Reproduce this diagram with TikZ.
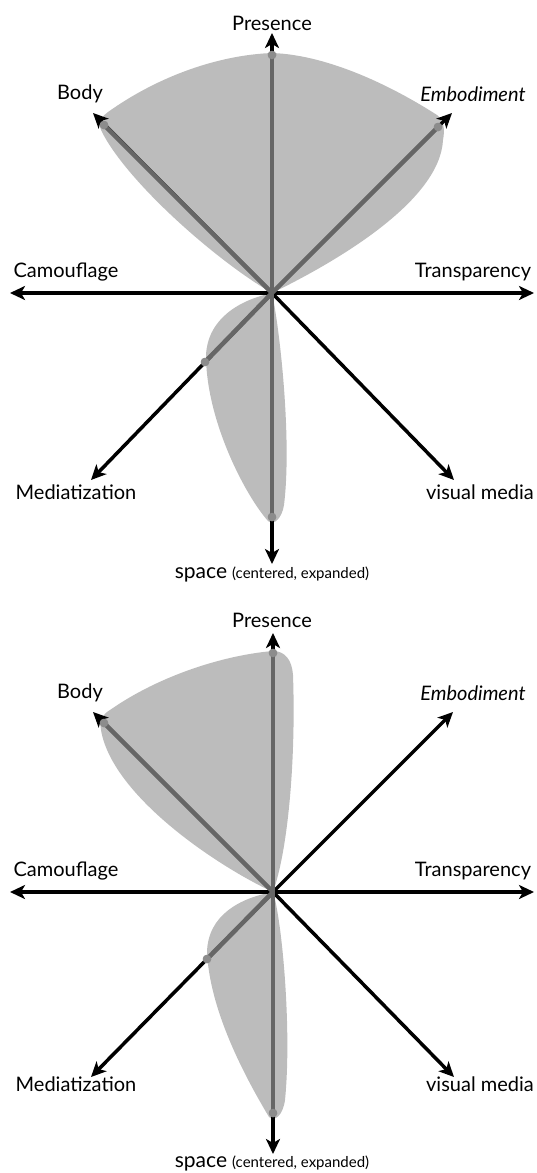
\documentclass[tikz,border=0pt]{standalone}
\usepackage{fontspec}
\setmainfont{Lato}
\usetikzlibrary{arrows.meta}
\definecolor{shadecol}{RGB}{188,188,188}
\definecolor{raycol}{RGB}{102,102,102}
\definecolor{dotcol}{RGB}{140,140,140}
\begin{document}
\begin{tikzpicture}[x=1pt,y=-1pt,
  axisarrow/.style={line width=3.5pt,-{Stealth[length=15pt,width=14pt,inset=4pt]}},
  axisboth/.style={line width=3.5pt,{Stealth[length=15pt,width=14pt,inset=4pt]}-{Stealth[length=15pt,width=14pt,inset=4pt]}},
  rayline/.style={line width=4.5pt,draw=raycol},
  blob/.style={fill=shadecol},
  lab/.style={font=\fontsize{20}{22}\selectfont,inner sep=0pt},
  dotn/.style={circle,fill=dotcol,minimum size=8.5pt,inner sep=0pt}]
\useasboundingbox (0,0) rectangle (537,1173);

% ================= Panel 1 =================
\coordinate (c1) at (272,293);
\coordinate (L1) at (10,293);
\coordinate (R1) at (534,293);
\coordinate (Pt1) at (272,33);
\coordinate (Bt1) at (93,113);
\coordinate (Et1) at (452,113);
\coordinate (Mt1) at (91,480);
\coordinate (Vt1) at (454,480);
\coordinate (St1) at (272,564);

\fill[blob] (c1) .. controls (215,260) and (125,180) .. (101,130)
   .. controls (98,122) and (102,116) .. (108,112)
   .. controls (160,75) and (220,55) .. (272,53)
   .. controls (330,55) and (395,88) .. (437,115)
   .. controls (444,120) and (445,130) .. (443,140)
   .. controls (440,200) and (340,260) .. (c1) -- cycle;
\fill[blob] (c1) .. controls (240,300) and (208,318) .. (206,355)
   .. controls (206,420) and (245,495) .. (268,521)
   .. controls (274,526) and (282,518) .. (284,505)
   .. controls (292,440) and (280,330) .. (c1) -- cycle;

\draw[axisboth] (L1) -- (R1);
\draw[axisarrow] (c1) -- (Pt1);
\draw[axisarrow] (c1) -- (Bt1);
\draw[axisarrow] (c1) -- (Et1);
\draw[axisarrow] (c1) -- (Mt1);
\draw[axisarrow] (c1) -- (Vt1);
\draw[axisarrow] (c1) -- (St1);

\node[dotn] (Pd1) at (272,55) {};
\node[dotn] (Bd1) at (104,125) {};
\node[dotn] (Ed1) at (438,127) {};
\node[dotn] (Md1) at (205,362) {};
\node[dotn] (Sd1) at (272,517) {};
\draw[rayline] (c1) -- (Pd1.center);
\draw[rayline] (c1) -- (Bd1.center);
\draw[rayline] (c1) -- (Ed1.center);
\draw[rayline] (c1) -- (Md1.center);
\draw[rayline] (c1) -- (Sd1.center);
\node[dotn] at (Pd1) {};
\node[dotn] at (Bd1) {};
\node[dotn] at (Ed1) {};
\node[dotn] at (Md1) {};
\node[dotn] at (Sd1) {};

\node[lab] (pres1) at (272,23) {Presence};
\node[lab] (body1) at (80,94) {Body};
\node[lab] (emb1) at (473,94) {\itshape Embodiment};
\node[lab] (cam1) at (66,272) {Camouflage};
\node[lab] (tra1) at (473,272) {Transparency};
\node[lab] (med1) at (76,492) {Mediatization};
\node[lab] (vis1) at (480,492) {visual media};
\node[lab] (spa1) at (272,574) {{\fontsize{21}{23}\selectfont space} {\fontsize{15}{17}\selectfont (centered, expanded)}};

% ================= Panel 2 =================
\coordinate (c2) at (273,892);
\coordinate (L2) at (10,892);
\coordinate (R2) at (534,892);
\coordinate (Pt2) at (273,633);
\coordinate (Bt2) at (93,712);
\coordinate (Et2) at (453,712);
\coordinate (Mt2) at (91,1077);
\coordinate (Vt2) at (454,1077);
\coordinate (St2) at (273,1154);

\fill[blob] (c2) .. controls (215,865) and (112,795) .. (101,730)
   .. controls (99,720) and (103,714) .. (110,710)
   .. controls (160,675) and (225,655) .. (273,651)
   .. controls (285,651) and (292,660) .. (293,675)
   .. controls (296,760) and (288,850) .. (c2) -- cycle;
\fill[blob] (c2) .. controls (240,898) and (208,915) .. (207,952)
   .. controls (210,1015) and (250,1085) .. (269,1117)
   .. controls (275,1122) and (283,1115) .. (285,1100)
   .. controls (292,1030) and (282,920) .. (c2) -- cycle;

\draw[axisboth] (L2) -- (R2);
\draw[axisarrow] (c2) -- (Pt2);
\draw[axisarrow] (c2) -- (Bt2);
\draw[axisarrow] (c2) -- (Et2);
\draw[axisarrow] (c2) -- (Mt2);
\draw[axisarrow] (c2) -- (Vt2);
\draw[axisarrow] (c2) -- (St2);

\node[dotn] (Pd2) at (273,653) {};
\node[dotn] (Bd2) at (104,723) {};
\node[dotn] (Md2) at (207,959) {};
\node[dotn] (Sd2) at (273,1113) {};
\draw[rayline] (c2) -- (Pd2.center);
\draw[rayline] (c2) -- (Bd2.center);
\draw[rayline] (c2) -- (Md2.center);
\draw[rayline] (c2) -- (Sd2.center);
\node[dotn] at (Pd2) {};
\node[dotn] at (Bd2) {};
\node[dotn] at (Md2) {};
\node[dotn] at (Sd2) {};

\node[lab] (pres2) at (272,620) {Presence};
\node[lab] (body2) at (80,693) {Body};
\node[lab] (emb2) at (473,693) {\itshape Embodiment};
\node[lab] (cam2) at (66,871) {Camouflage};
\node[lab] (tra2) at (473,871) {Transparency};
\node[lab] (med2) at (76,1084) {Mediatization};
\node[lab] (vis2) at (480,1084) {visual media};
\node[lab] (spa2) at (272,1163) {{\fontsize{21}{23}\selectfont space} {\fontsize{15}{17}\selectfont (centered, expanded)}};
\end{tikzpicture}
\end{document}
